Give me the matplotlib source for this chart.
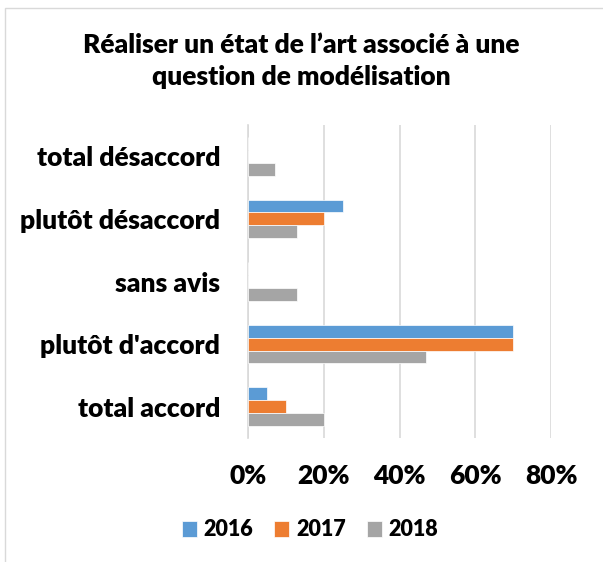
import numpy as np
import matplotlib
matplotlib.use('Agg')
import matplotlib.pyplot as plt
from matplotlib.patches import Rectangle
from matplotlib.ticker import PercentFormatter

# categories listed bottom to top, as Excel draws them
categories = ['total accord', "plutôt d'accord", 'sans avis',
              'plutôt désaccord', 'total désaccord']
years = ['2016', '2017', '2018']
v2016 = [0.05, 0.70, 0.00, 0.25, 0.00]
v2017 = [0.10, 0.70, 0.00, 0.20, 0.00]
v2018 = [0.20, 0.47, 0.13, 0.13, 0.07]
colors = ['#5B9BD5', '#ED7D31', '#A5A5A5']

FS = 19
WT = 'heavy'
plt.rcParams['font.family'] = ['Lato', 'DejaVu Sans']
plt.rcParams['font.weight'] = WT

fig = plt.figure(figsize=(6.03, 5.62), dpi=100)
ax = fig.add_axes([248 / 603, 1 - 438 / 562, (551 - 248) / 603, (438 - 125) / 562])

# outer chart border
fig.patches.append(Rectangle((5 / 603, -0.01), 1.0, 1 - 8 / 562 + 0.01,
                             transform=fig.transFigure, fill=False,
                             edgecolor='#D9D9D9', linewidth=1.0))

y = np.arange(len(categories))
h = 0.205
for i, (vals, yr) in enumerate(zip([v2016, v2017, v2018], years)):
    ax.barh(y + (1 - i) * h, vals, height=h, color=colors[i], label=yr,
            edgecolor='white', linewidth=0.5, zorder=3)

ax.set_xlim(0, 0.8)
ax.set_ylim(-0.5, len(categories) - 0.5)
ax.set_xticks([0, 0.2, 0.4, 0.6, 0.8])
ax.xaxis.set_major_formatter(PercentFormatter(1.0, decimals=0))
ax.set_yticks(y)
ax.set_yticklabels(categories)
ax.grid(axis='x', color='#D9D9D9', linewidth=1.2, zorder=0)
for s in ['top', 'right', 'bottom']:
    ax.spines[s].set_visible(False)
ax.spines['left'].set_color('#D9D9D9')
ax.spines['left'].set_linewidth(1.2)
ax.tick_params(axis='y', length=0, pad=20, labelsize=FS)
ax.tick_params(axis='x', length=0, pad=19, labelsize=FS)

fig.text(0.5, 1 - 45 / 562, "Réaliser un état de l’art associé à une",
         ha='center', va='center', fontsize=FS, fontweight=WT)
fig.text(0.5, 1 - 77 / 562, "question de modélisation",
         ha='center', va='center', fontsize=FS, fontweight=WT)

fig.legend(loc='center', bbox_to_anchor=(310 / 603, 1 - 530 / 562), ncol=3,
           frameon=False, fontsize=15.5, handlelength=0.7, handleheight=0.7,
           handletextpad=0.3, columnspacing=1.0)

fig.savefig('out.png', dpi=100)
